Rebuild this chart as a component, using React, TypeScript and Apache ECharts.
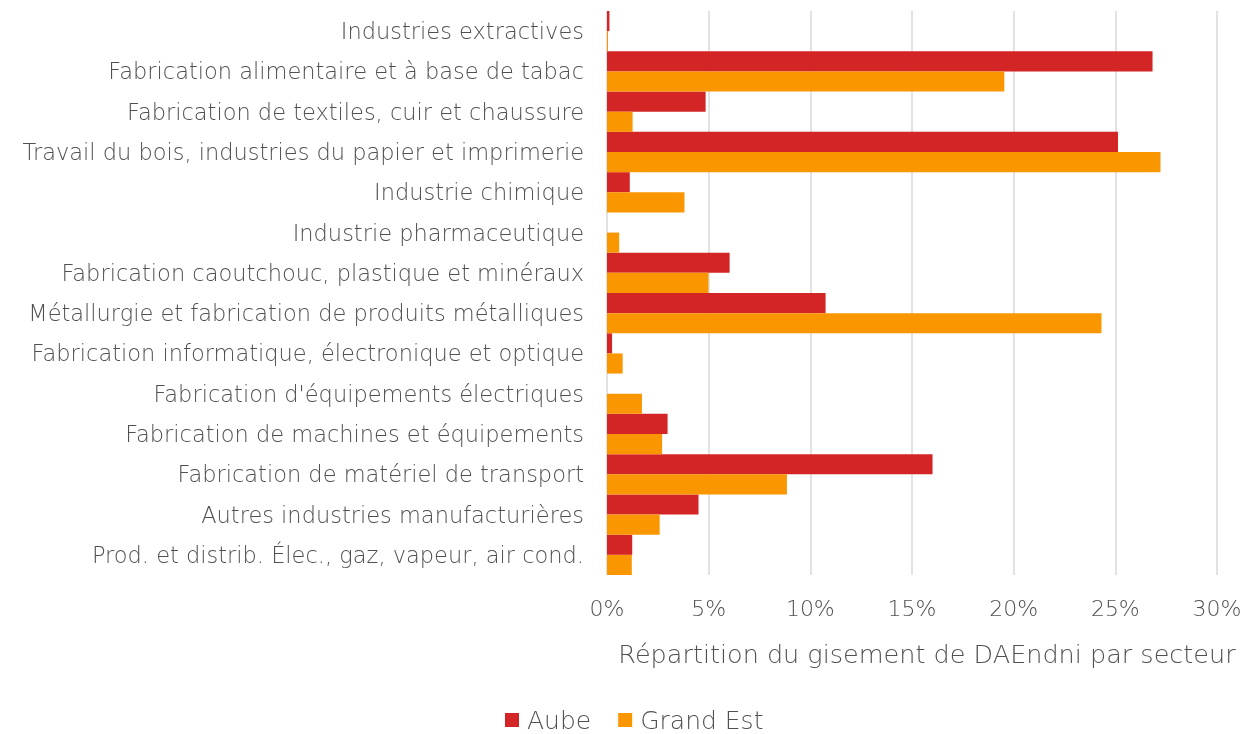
import React, { useEffect, useRef } from "react";
import * as echarts from "echarts";

const categories = [
  "Industries extractives",
  "Fabrication alimentaire et à base de tabac",
  "Fabrication de textiles, cuir et chaussure",
  "Travail du bois, industries du papier et imprimerie",
  "Industrie chimique",
  "Industrie pharmaceutique",
  "Fabrication caoutchouc, plastique et minéraux",
  "Métallurgie et fabrication de produits métalliques",
  "Fabrication informatique, électronique et optique",
  "Fabrication d'équipements électriques",
  "Fabrication de machines et équipements",
  "Fabrication de matériel de transport",
  "Autres industries manufacturières",
  "Prod. et distrib. Élec., gaz, vapeur, air cond.",
];

const aube = [0.12, 26.83, 4.85, 25.13, 1.12, 0, 6.03, 10.75, 0.25, 0, 2.98, 16.01, 4.5, 1.24];
const grandEst = [0.05, 19.54, 1.26, 27.22, 3.81, 0.6, 4.99, 24.32, 0.77, 1.72, 2.71, 8.85, 2.59, 1.22];

const seriesNames = ["Aube", "Grand Est"];
const colors = ["#d32426", "#fa9700"];

const FONT = "'DejaVu Sans', sans-serif";
const GRAY = "#505050";

export default function App() {
  const ref = useRef<HTMLDivElement>(null);
  useEffect(() => {
    if (!ref.current) return;
    const chart = echarts.init(ref.current, undefined, { renderer: "svg" });
    chart.setOption({
      animation: false,
      textStyle: { fontFamily: FONT },
      grid: { left: 607, right: 35, top: 11, bottom: 159, containLabel: false },
      legend: {
        top: 707,
        left: 505,
        padding: 0,
        itemWidth: 14,
        itemHeight: 14,
        itemGap: 27,
        icon: "rect",
        textStyle: {
          fontSize: 25,
          lineHeight: 26,
          color: GRAY,
          fontFamily: FONT,
          fontWeight: 200,
          padding: [0, 0, 0, 3],
        },
        data: seriesNames,
      },
      xAxis: {
        type: "value",
        min: 0,
        max: 30,
        interval: 5,
        axisLabel: {
          formatter: (v: number) => v + "%",
          fontSize: 22,
          color: GRAY,
          margin: 22,
          fontFamily: FONT,
          fontWeight: 200,
        },
        axisLine: { show: false },
        axisTick: { show: false },
        splitLine: { lineStyle: { color: "#d9d9d9", width: 1.5 } },
        name: "Répartition du gisement de DAEndni par secteur",
        nameLocation: "middle",
        nameGap: 66,
        nameTextStyle: { fontSize: 25.5, color: GRAY, fontFamily: FONT, fontWeight: 200, padding: [0, 0, 0, 30] },
      },
      yAxis: {
        type: "category",
        data: categories,
        inverse: true,
        axisLine: { show: false },
        axisTick: { show: false },
        axisLabel: { fontSize: 22.5, color: GRAY, margin: 23, fontFamily: FONT, fontWeight: 200 },
      },
      series: [
        {
          name: seriesNames[0],
          type: "bar",
          data: aube,
          itemStyle: { color: colors[0] },
          barGap: "0%",
          barCategoryGap: "0%",
        },
        {
          name: seriesNames[1],
          type: "bar",
          data: grandEst,
          itemStyle: { color: colors[1] },
          barGap: "0%",
          barCategoryGap: "0%",
        },
      ],
    });
    return () => chart.dispose();
  }, []);
  return <div ref={ref} style={{ position: "fixed", left: 0, top: 0, width: 1252, height: 734 }} />;
}
